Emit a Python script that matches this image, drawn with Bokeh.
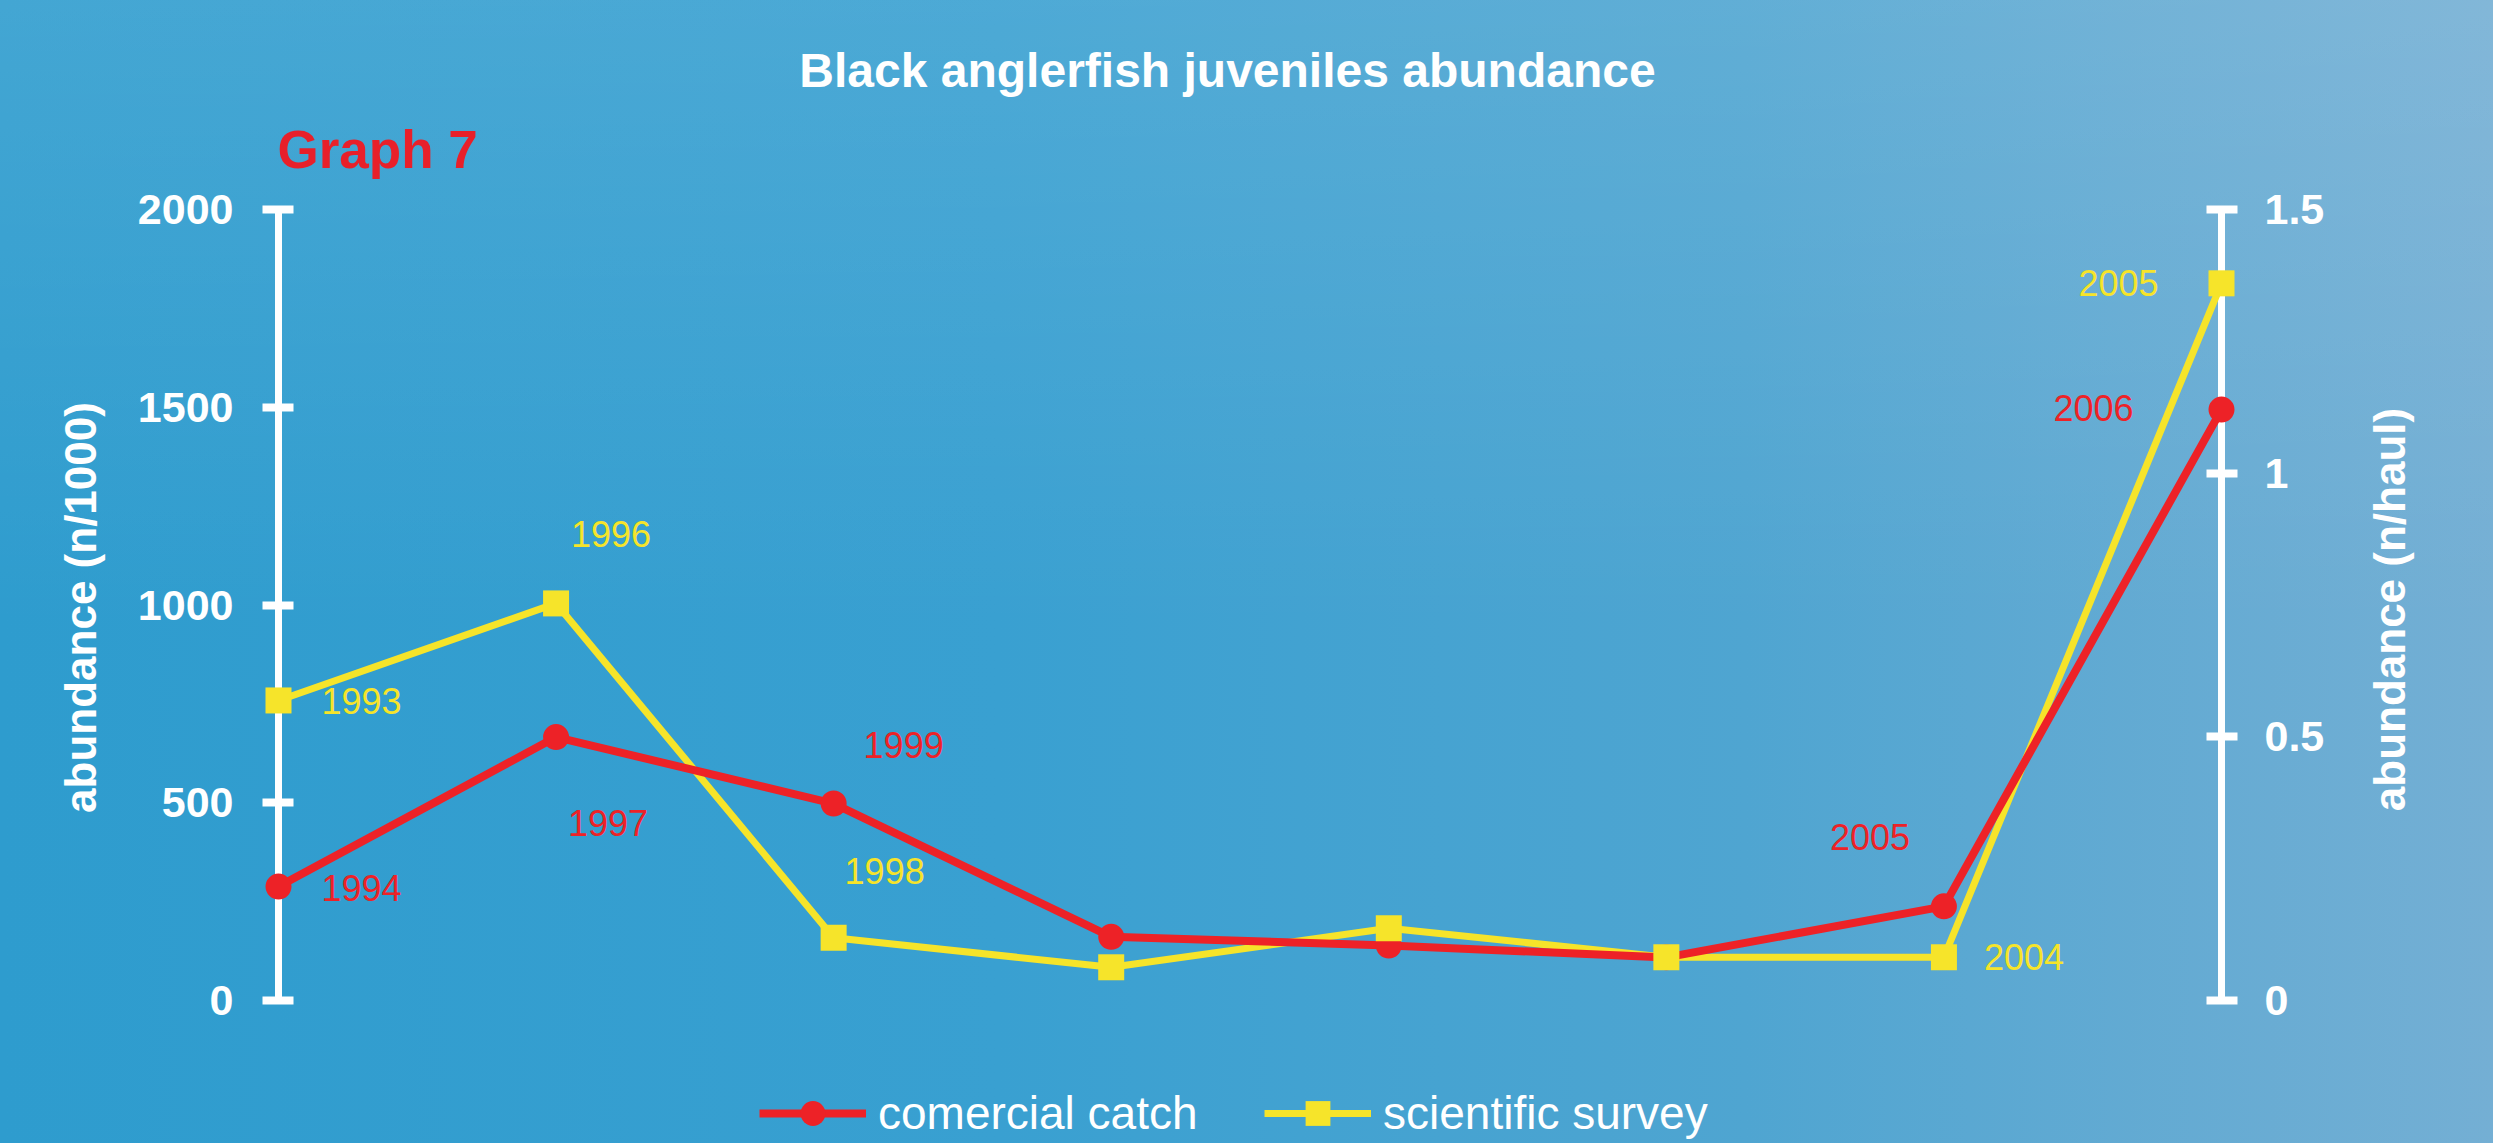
import math
from bokeh.plotting import figure
from bokeh.models import (ColumnDataSource, Range1d, LinearAxis, FixedTicker,
                          CustomJSTickFormatter, Legend, LegendItem)
from bokeh.core.properties import value
from bokeh.embed import file_html
from bokeh.resources import INLINE

# ---------------- data ----------------
points = [0, 1, 2, 3, 4, 5, 6, 7]
commercial_catch = [288, 666, 498, 161, 139, 109, 238, 1494]          # n/1000 (left axis)
scientific_survey = [0.569, 0.753, 0.119, 0.063, 0.137, 0.082, 0.082, 1.360]  # n/haul (right axis)
catch_labels = ["1994", "1997", "1999", "", "", "", "2005", "2006"]
survey_labels = ["1993", "1996", "1998", "", "", "", "2004", "2005"]
left_ticks = [0, 500, 1000, 1500, 2000]
right_ticks = [0, 0.5, 1, 1.5]
title_text = "Black anglerfish juveniles abundance"
graph_text = "Graph 7"
left_title = "abundance (n/1000)"
right_title = "abundance (n/haul)"
series_names = ["comercial catch", "scientific survey"]

# ---------------- layout / style ----------------
W, H = 2493, 1143
FL, FR = 278, 2221          # x pixel of first / last point (axis lines)
PY0, PYTOP = 1000, 209      # pixel rows of axis value 0 and axis top
RED = "#ED2227"
YEL = "#F6E42A"
WHITE = "#FFFFFF"
FONT = "Liberation Sans"

# label offsets (screen px) relative to their point
catch_dx = [83, 52, 70, 0, 0, 0, -74, -128]
catch_dy = [1, 86, -59, 0, 0, 0, -69, -2]
survey_dx = [83, 55, 51, 0, 0, 0, 80, -103]
survey_dy = [1, -69, -67, 0, 0, 0, 0, 0]

# frame spans full canvas height; axes are bounded to their value range
lmin, lmax = left_ticks[0], left_ticks[-1]
rmin, rmax = right_ticks[0], right_ticks[-1]
kl = (PY0 - PYTOP) / (lmax - lmin)
kr = (PY0 - PYTOP) / (rmax - rmin)
yr_left = Range1d(lmin - (H - PY0) / kl, lmax + PYTOP / kl)
yr_right = Range1d(rmin - (H - PY0) / kr, rmax + PYTOP / kr)

p = figure(width=W, height=H, output_backend="svg", toolbar_location=None,
           title_location=None,
           x_range=Range1d(points[0], points[-1]), y_range=yr_left,
           x_axis_location=None,
           min_border_left=FL, min_border_right=W - FR,
           min_border_top=0, min_border_bottom=0)
p.extra_y_ranges = {"haul": yr_right}
p.background_fill_alpha = 0
p.border_fill_alpha = 0
p.outline_line_color = None
p.grid.visible = False
p.styles = {"background": "linear-gradient(to bottom, rgba(255,255,255,0.10) 0%, rgba(255,255,255,0) 55%), "
                          "linear-gradient(to right, #2e9cce 0%, #39a0d1 40%, #4fa5d1 70%, #74afd4 100%)"}


def style_axis(ax, standoff):
    ax.axis_line_color = WHITE
    ax.axis_line_width = 7
    ax.major_tick_line_color = WHITE
    ax.major_tick_line_width = 8
    ax.major_tick_in = 15
    ax.major_tick_out = 16
    ax.minor_tick_line_color = None
    ax.major_label_text_color = WHITE
    ax.major_label_text_font = FONT
    ax.major_label_text_font_style = "bold"
    ax.major_label_text_font_size = "43px"
    ax.major_label_standoff = standoff


lax = p.yaxis[0]
lax.ticker = FixedTicker(ticks=left_ticks)
lax.bounds = (lmin, lmax)
style_axis(lax, 29)

rax = LinearAxis(y_range_name="haul", ticker=FixedTicker(ticks=right_ticks),
                 formatter=CustomJSTickFormatter(code="return String(tick)"),
                 bounds=(rmin, rmax))
style_axis(rax, 27)
p.add_layout(rax, "right")

src = ColumnDataSource(dict(x=points, catch=commercial_catch, survey=scientific_survey,
                            catch_label=catch_labels, survey_label=survey_labels,
                            catch_dx=catch_dx, catch_dy=catch_dy,
                            survey_dx=survey_dx, survey_dy=survey_dy))

yl = p.line("x", "survey", source=src, y_range_name="haul", line_color=YEL, line_width=7, level="annotation")
rl = p.line("x", "catch", source=src, line_color=RED, line_width=8, level="annotation")
rp = p.scatter("x", "catch", source=src, marker="circle", size=26, fill_color=RED,
               line_color=None, level="annotation")
yp = p.scatter("x", "survey", source=src, y_range_name="haul", marker="square", size=26,
               fill_color=YEL, line_color=None, level="annotation")

p.text("x", "catch", text="catch_label", source=src, x_offset="catch_dx", y_offset="catch_dy",
       text_color=RED, text_font=value(FONT), text_font_size="36px", text_align="center",
       text_baseline="middle", level="annotation")
p.text("x", "survey", text="survey_label", source=src, y_range_name="haul",
       x_offset="survey_dx", y_offset="survey_dy",
       text_color=YEL, text_font=value(FONT), text_font_size="36px", text_align="center",
       text_baseline="middle", level="annotation")

legend = Legend(items=[LegendItem(label=series_names[0], renderers=[rl, rp]),
                       LegendItem(label=series_names[1], renderers=[yl, yp])],
                location=(759 - FL, -1), orientation="horizontal",
                glyph_width=107, glyph_height=62, label_standoff=12, label_width=357,
                spacing=29, padding=0, margin=0,
                background_fill_alpha=0, border_line_color=None,
                label_text_color=WHITE, label_text_font=FONT, label_text_font_size="46px")
p.add_layout(legend)


def dx(px):
    return p.x_range.start + (px - FL) / (FR - FL) * (p.x_range.end - p.x_range.start)


def dy(py):
    return yr_left.start + (H - py) / H * (yr_left.end - yr_left.start)


def free_text(txt, px, py, size, color, align="center", angle=0.0):
    s = ColumnDataSource(dict(x=[dx(px)], y=[dy(py)], t=[txt]))
    p.text("x", "y", text="t", source=s, angle=angle, text_align=align,
           text_baseline="middle", text_color=color, text_font=value(FONT),
           text_font_style="bold", text_font_size=size, level="annotation")


free_text(title_text, 1227, 70, "48px", WHITE)
free_text(graph_text, 277, 149, "53px", "#E8202A", align="left")
free_text(left_title, 80, 607, "44px", WHITE, angle=math.pi / 2)
free_text(right_title, 2389, 609, "44px", WHITE, angle=math.pi / 2)

open("out.html", "w").write(file_html(p, INLINE))
